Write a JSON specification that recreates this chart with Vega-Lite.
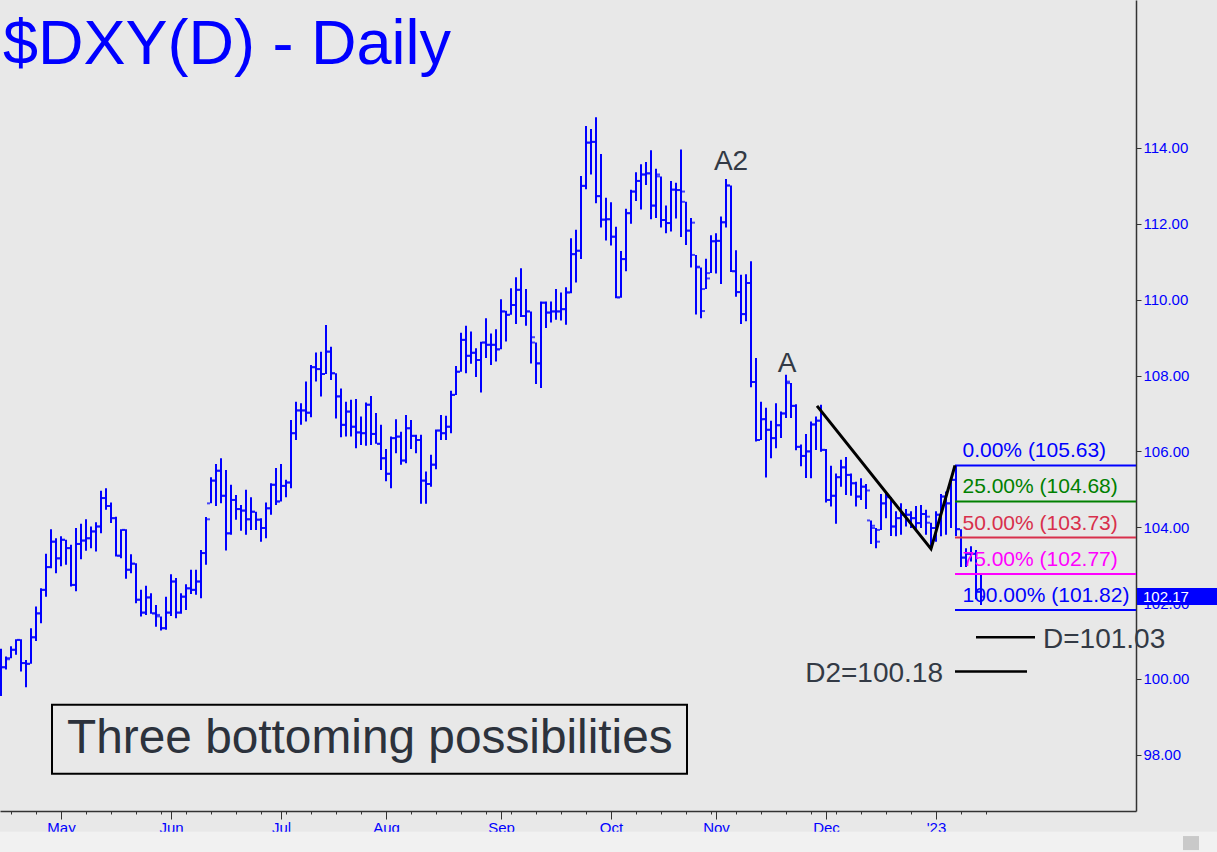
{
"$schema": "https://vega.github.io/schema/vega-lite/v6.json",
"width": 1136, "height": 811,
"autosize": {"type": "none"},
"padding": {"left": 0, "top": 0, "right": 81, "bottom": 41},
"background": "#e8e8e8",
"config": {"view": {"stroke": null}, "font": "Liberation Sans"},
"resolve": {"axis": {"x": "independent"}},
"datasets": {
"bars": [
{"i":0,"o":100.5,"h":100.8,"l":99.55,"c":100.31},
{"i":1,"o":100.31,"h":100.59,"l":100.25,"c":100.52},
{"i":2,"o":100.55,"h":100.86,"l":100.55,"c":100.77},
{"i":3,"o":100.77,"h":101.05,"l":100.64,"c":101.03},
{"i":4,"o":101.03,"h":101.05,"l":100.2,"c":100.42},
{"i":5,"o":100.42,"h":100.5,"l":99.78,"c":100.4},
{"i":6,"o":100.4,"h":101.34,"l":100.4,"c":101.1},
{"i":7,"o":101.1,"h":101.91,"l":101.0,"c":101.73},
{"i":8,"o":101.73,"h":102.39,"l":101.47,"c":102.35},
{"i":9,"o":102.35,"h":103.3,"l":102.17,"c":102.95},
{"i":10,"o":102.95,"h":103.95,"l":102.92,"c":103.62},
{"i":11,"o":103.62,"h":103.71,"l":102.79,"c":103.18},
{"i":12,"o":103.18,"h":103.76,"l":102.97,"c":103.67},
{"i":13,"o":103.67,"h":103.67,"l":103.01,"c":103.45},
{"i":14,"o":103.45,"h":103.54,"l":102.44,"c":102.48},
{"i":15,"o":102.48,"h":103.98,"l":102.31,"c":103.56},
{"i":16,"o":103.56,"h":104.09,"l":103.16,"c":103.65},
{"i":17,"o":103.65,"h":104.21,"l":103.38,"c":103.71},
{"i":18,"o":103.71,"h":104.02,"l":103.45,"c":103.89},
{"i":19,"o":103.89,"h":104.13,"l":103.36,"c":104.02},
{"i":20,"o":104.02,"h":104.96,"l":103.84,"c":104.77},
{"i":21,"o":104.77,"h":105.03,"l":104.46,"c":104.56},
{"i":22,"o":104.56,"h":104.65,"l":104.11,"c":104.24},
{"i":23,"o":104.24,"h":104.28,"l":103.23,"c":103.25},
{"i":24,"o":103.25,"h":103.95,"l":103.18,"c":103.93},
{"i":25,"o":103.93,"h":103.95,"l":102.64,"c":102.88},
{"i":26,"o":102.88,"h":103.29,"l":102.79,"c":103.04},
{"i":27,"o":103.04,"h":103.05,"l":102.0,"c":102.09},
{"i":28,"o":102.09,"h":102.35,"l":101.65,"c":101.75},
{"i":29,"o":101.75,"h":102.46,"l":101.69,"c":102.15},
{"i":30,"o":102.15,"h":102.26,"l":101.72,"c":101.73},
{"i":31,"o":101.73,"h":101.95,"l":101.38,"c":101.69},
{"i":32,"o":101.65,"h":101.65,"l":101.28,"c":101.34},
{"i":33,"o":101.34,"h":102.17,"l":101.3,"c":101.75},
{"i":34,"o":101.75,"h":102.76,"l":101.66,"c":102.57},
{"i":35,"o":102.57,"h":102.66,"l":101.6,"c":101.75},
{"i":36,"o":101.75,"h":102.26,"l":101.72,"c":102.17},
{"i":37,"o":102.17,"h":102.5,"l":101.82,"c":102.39},
{"i":38,"o":102.39,"h":102.88,"l":102.24,"c":102.35},
{"i":39,"o":102.35,"h":102.88,"l":102.22,"c":102.57},
{"i":40,"o":102.57,"h":103.4,"l":102.13,"c":103.32},
{"i":41,"o":103.32,"h":104.27,"l":103.01,"c":104.21},
{"i":42,"o":104.63,"h":105.32,"l":104.63,"c":105.23},
{"i":43,"o":105.23,"h":105.67,"l":104.56,"c":105.49},
{"i":44,"o":105.49,"h":105.82,"l":104.63,"c":104.83},
{"i":45,"o":104.83,"h":105.51,"l":103.39,"c":103.84},
{"i":46,"o":103.84,"h":105.12,"l":103.8,"c":104.72},
{"i":47,"o":104.72,"h":104.85,"l":104.2,"c":104.48},
{"i":48,"o":104.48,"h":104.59,"l":103.91,"c":104.44},
{"i":49,"o":104.44,"h":104.99,"l":103.8,"c":104.21},
{"i":50,"o":104.21,"h":104.79,"l":103.93,"c":104.41},
{"i":51,"o":104.41,"h":104.41,"l":103.93,"c":104.2},
{"i":52,"o":104.2,"h":104.24,"l":103.62,"c":103.98},
{"i":53,"o":103.98,"h":104.65,"l":103.71,"c":104.5},
{"i":54,"o":104.5,"h":105.16,"l":104.33,"c":105.12},
{"i":55,"o":105.12,"h":105.56,"l":104.59,"c":104.68},
{"i":56,"o":104.68,"h":105.67,"l":104.68,"c":105.09},
{"i":57,"o":105.09,"h":105.25,"l":104.79,"c":105.18},
{"i":58,"o":105.18,"h":106.83,"l":105.03,"c":106.48},
{"i":59,"o":106.48,"h":107.31,"l":106.3,"c":107.08},
{"i":60,"o":107.08,"h":107.27,"l":106.7,"c":107.08},
{"i":61,"o":107.08,"h":107.84,"l":106.79,"c":107.02},
{"i":62,"o":107.02,"h":108.28,"l":106.9,"c":108.22},
{"i":63,"o":108.22,"h":108.61,"l":107.84,"c":108.17},
{"i":64,"o":108.17,"h":108.63,"l":107.45,"c":108.04},
{"i":65,"o":108.04,"h":109.33,"l":108.04,"c":108.63},
{"i":66,"o":108.63,"h":108.76,"l":107.88,"c":108.06},
{"i":67,"o":108.06,"h":108.06,"l":106.87,"c":107.45},
{"i":68,"o":107.45,"h":107.66,"l":106.37,"c":106.7},
{"i":69,"o":106.7,"h":107.31,"l":106.39,"c":107.05},
{"i":70,"o":107.05,"h":107.36,"l":106.39,"c":106.65},
{"i":71,"o":106.65,"h":107.38,"l":106.08,"c":106.5},
{"i":72,"o":106.5,"h":106.92,"l":106.17,"c":106.48},
{"i":73,"o":106.48,"h":107.29,"l":106.15,"c":107.23},
{"i":74,"o":107.23,"h":107.46,"l":106.17,"c":106.46},
{"i":75,"o":106.46,"h":107.01,"l":106.2,"c":106.2},
{"i":76,"o":106.2,"h":106.7,"l":105.51,"c":105.82},
{"i":77,"o":105.82,"h":106.06,"l":105.21,"c":105.41},
{"i":78,"o":105.41,"h":106.39,"l":105.03,"c":106.35},
{"i":79,"o":106.35,"h":106.85,"l":105.95,"c":106.39},
{"i":80,"o":106.39,"h":106.52,"l":105.65,"c":105.76},
{"i":81,"o":105.76,"h":106.96,"l":105.69,"c":106.61},
{"i":82,"o":106.61,"h":106.83,"l":106.06,"c":106.41},
{"i":83,"o":106.41,"h":106.44,"l":105.95,"c":106.3},
{"i":84,"o":106.3,"h":106.44,"l":104.62,"c":105.23},
{"i":85,"o":105.23,"h":105.47,"l":104.62,"c":105.14},
{"i":86,"o":105.14,"h":105.91,"l":105.07,"c":105.65},
{"i":87,"o":105.65,"h":106.58,"l":105.53,"c":106.55},
{"i":88,"o":106.55,"h":106.96,"l":106.3,"c":106.48},
{"i":89,"o":106.48,"h":106.94,"l":106.3,"c":106.65},
{"i":90,"o":106.65,"h":107.6,"l":106.48,"c":107.49},
{"i":91,"o":107.49,"h":108.25,"l":107.49,"c":108.1},
{"i":92,"o":108.1,"h":109.13,"l":108.1,"c":108.94},
{"i":93,"o":108.94,"h":109.31,"l":108.06,"c":108.52},
{"i":94,"o":108.52,"h":109.16,"l":108.31,"c":108.6},
{"i":95,"o":108.6,"h":108.72,"l":107.96,"c":108.41},
{"i":96,"o":108.41,"h":108.89,"l":107.55,"c":108.87},
{"i":97,"o":108.87,"h":109.51,"l":108.46,"c":108.81},
{"i":98,"o":108.81,"h":109.11,"l":108.28,"c":108.81},
{"i":99,"o":108.81,"h":109.22,"l":108.37,"c":108.69},
{"i":100,"o":108.69,"h":110.01,"l":108.69,"c":109.69},
{"i":101,"o":109.69,"h":109.71,"l":108.9,"c":109.6},
{"i":102,"o":109.6,"h":110.3,"l":109.6,"c":109.86},
{"i":103,"o":109.86,"h":110.59,"l":109.36,"c":110.26},
{"i":104,"o":110.26,"h":110.83,"l":109.54,"c":109.57},
{"i":105,"o":109.57,"h":110.28,"l":109.31,"c":109.69},
{"i":106,"o":109.69,"h":109.69,"l":108.32,"c":109.01},
{"i":107,"o":108.87,"h":108.87,"l":107.78,"c":108.32},
{"i":108,"o":108.32,"h":109.95,"l":107.67,"c":109.92},
{"i":109,"o":109.92,"h":109.95,"l":109.25,"c":109.66},
{"i":110,"o":109.66,"h":109.95,"l":109.4,"c":109.69},
{"i":111,"o":109.69,"h":110.28,"l":109.47,"c":109.69},
{"i":112,"o":109.69,"h":110.19,"l":109.45,"c":109.75},
{"i":113,"o":109.75,"h":110.33,"l":109.34,"c":110.19},
{"i":114,"o":110.19,"h":111.62,"l":110.17,"c":111.2},
{"i":115,"o":111.2,"h":111.84,"l":110.45,"c":111.29},
{"i":116,"o":111.29,"h":113.26,"l":111.07,"c":113.0},
{"i":117,"o":113.0,"h":114.58,"l":112.91,"c":114.14},
{"i":118,"o":114.14,"h":114.5,"l":113.3,"c":114.16},
{"i":119,"o":114.16,"h":114.81,"l":112.54,"c":112.73},
{"i":120,"o":112.73,"h":113.84,"l":111.9,"c":112.11},
{"i":121,"o":112.11,"h":112.69,"l":111.56,"c":112.12},
{"i":122,"o":112.12,"h":112.57,"l":111.43,"c":111.66},
{"i":123,"o":111.66,"h":111.92,"l":110.04,"c":110.06},
{"i":124,"o":110.06,"h":111.28,"l":110.05,"c":111.07},
{"i":125,"o":111.07,"h":112.4,"l":110.75,"c":112.28},
{"i":126,"o":112.28,"h":112.9,"l":112.0,"c":112.85},
{"i":127,"o":112.85,"h":113.36,"l":112.6,"c":113.13},
{"i":128,"o":113.13,"h":113.57,"l":112.38,"c":113.3},
{"i":129,"o":113.3,"h":113.63,"l":113.02,"c":113.33},
{"i":130,"o":113.33,"h":113.94,"l":112.12,"c":112.48},
{"i":131,"o":112.48,"h":113.45,"l":112.15,"c":113.3},
{"i":132,"o":113.25,"h":113.25,"l":111.9,"c":112.1},
{"i":133,"o":112.1,"h":112.48,"l":111.75,"c":112.02},
{"i":134,"o":112.02,"h":113.13,"l":111.8,"c":112.9},
{"i":135,"o":112.9,"h":113.08,"l":112.14,"c":112.89},
{"i":136,"o":112.89,"h":113.96,"l":111.65,"c":112.85},
{"i":137,"o":112.58,"h":112.58,"l":111.44,"c":111.82},
{"i":138,"o":111.82,"h":112.15,"l":110.85,"c":112.03},
{"i":139,"o":111.18,"h":111.18,"l":109.61,"c":110.87},
{"i":140,"o":110.85,"h":110.85,"l":109.51,"c":109.7},
{"i":141,"o":110.28,"h":111.08,"l":110.28,"c":110.56},
{"i":142,"o":110.7,"h":111.7,"l":110.7,"c":111.54},
{"i":143,"o":111.54,"h":111.75,"l":110.69,"c":111.55},
{"i":144,"o":111.55,"h":112.19,"l":110.41,"c":112.04},
{"i":145,"o":112.04,"h":113.18,"l":111.9,"c":113.01},
{"i":146,"o":113.01,"h":113.01,"l":110.73,"c":110.75},
{"i":147,"o":110.75,"h":111.3,"l":110.08,"c":110.2},
{"i":148,"o":110.2,"h":110.66,"l":109.36,"c":109.62},
{"i":149,"o":109.62,"h":110.67,"l":109.43,"c":110.44},
{"i":150,"o":110.44,"h":111.01,"l":107.69,"c":107.83},
{"i":151,"o":107.83,"h":108.46,"l":106.26,"c":106.3},
{"i":152,"o":106.3,"h":107.31,"l":106.3,"c":106.85},
{"i":153,"o":106.85,"h":107.15,"l":105.31,"c":106.57},
{"i":154,"o":106.57,"h":106.81,"l":105.82,"c":106.35},
{"i":155,"o":106.35,"h":107.27,"l":106.08,"c":106.69},
{"i":156,"o":106.69,"h":107.05,"l":106.35,"c":107.0},
{"i":157,"o":107.0,"h":108.02,"l":106.88,"c":107.84},
{"i":158,"o":107.8,"h":107.8,"l":106.88,"c":107.2},
{"i":159,"o":107.2,"h":107.24,"l":106.03,"c":106.12},
{"i":160,"o":106.12,"h":106.18,"l":105.61,"c":105.88},
{"i":161,"o":105.88,"h":106.46,"l":105.3,"c":106.0},
{"i":162,"o":106.0,"h":106.79,"l":105.29,"c":106.71},
{"i":163,"o":106.71,"h":106.92,"l":106.04,"c":106.81},
{"i":164,"o":106.81,"h":107.23,"l":105.99,"c":106.04},
{"i":165,"o":106.04,"h":106.06,"l":104.65,"c":104.72},
{"i":166,"o":104.72,"h":105.62,"l":104.55,"c":104.83},
{"i":167,"o":104.83,"h":105.42,"l":104.09,"c":105.32},
{"i":168,"o":105.32,"h":105.78,"l":105.07,"c":105.58},
{"i":169,"o":105.58,"h":105.85,"l":104.85,"c":105.38},
{"i":170,"o":105.38,"h":105.42,"l":104.83,"c":105.16},
{"i":171,"o":105.16,"h":105.2,"l":104.55,"c":104.81},
{"i":172,"o":104.81,"h":105.29,"l":104.72,"c":105.07},
{"i":173,"o":105.07,"h":105.14,"l":104.48,"c":104.97},
{"i":174,"o":104.18,"h":104.18,"l":103.56,"c":104.04},
{"i":175,"o":103.98,"h":103.98,"l":103.45,"c":103.62},
{"i":176,"o":103.93,"h":104.88,"l":103.93,"c":104.63},
{"i":177,"o":104.63,"h":104.9,"l":104.24,"c":104.81},
{"i":178,"o":104.79,"h":104.79,"l":103.77,"c":104.02},
{"i":179,"o":104.02,"h":104.42,"l":103.76,"c":104.24},
{"i":180,"o":104.24,"h":104.63,"l":103.8,"c":104.33},
{"i":181,"o":104.33,"h":104.48,"l":104.02,"c":104.33},
{"i":182,"o":104.33,"h":104.42,"l":103.98,"c":104.24},
{"i":183,"o":104.24,"h":104.56,"l":103.93,"c":104.11},
{"i":184,"o":104.11,"h":104.59,"l":103.98,"c":104.35},
{"i":185,"o":104.35,"h":104.46,"l":103.8,"c":104.28},
{"i":186,"o":104.12,"h":104.12,"l":103.45,"c":103.98},
{"i":187,"o":103.98,"h":104.42,"l":103.62,"c":104.33},
{"i":188,"o":104.33,"h":104.88,"l":103.76,"c":104.81},
{"i":189,"o":104.81,"h":104.94,"l":103.8,"c":104.63},
{"i":190,"o":104.63,"h":105.29,"l":103.98,"c":105.25},
{"i":191,"o":105.25,"h":105.63,"l":103.77,"c":103.95},
{"i":192,"o":103.95,"h":103.95,"l":102.95,"c":103.2},
{"i":193,"o":103.2,"h":103.45,"l":102.95,"c":103.3},
{"i":194,"o":103.3,"h":103.5,"l":103.1,"c":103.3},
{"i":195,"o":103.3,"h":103.4,"l":102.1,"c":102.3},
{"i":196,"o":102.3,"h":102.75,"l":101.95,"c":102.17}
]
},
"layer": [
{"data": {"values": [{"a": -0.2, "b": 243.2, "top": 95.97, "bot": 95.44}]},
 "mark": {"type": "rect", "fill": "#f1f1f1"},
 "encoding": {"x": {"field": "a", "type": "quantitative", "axis": null, "scale": {"domain": [-0.2, 227], "nice": false, "zero": false}},
  "x2": {"field": "b"},
  "y": {"field": "top", "type": "quantitative", "scale": {"domain": [96.52, 117.9], "nice": false, "zero": false}},
  "y2": {"field": "bot"}}},
{"data": {"values": [{"a": 236.4, "b": 239.6, "top": 95.86, "bot": 95.49}]},
 "mark": {"type": "rect", "fill": "#c9c9c9"},
 "encoding": {"x": {"field": "a", "type": "quantitative", "axis": null}, "x2": {"field": "b"},
  "y": {"field": "top", "type": "quantitative"}, "y2": {"field": "bot"}}},
{"data": {"name": "bars"},
 "mark": {"type": "rule", "color": "#0000ff", "strokeWidth": 2},
 "encoding": {
  "x": {"field": "i", "type": "quantitative",
   "axis": {"orient": "bottom", "title": null, "grid": false, "domain": true,
    "values": [2,7,12,17,22,27,32,37,42,47,52,57,62,67,72,77,82,87,92,97,102,107,112,117,122,127,132,137,142,147,152,157,162,167,172,177,182,187,192,197],
    "labels": false, "tickSize": 3,
    "domainColor": "#333333", "tickColor": "#333333", "domainWidth": 1.5}},
  "y": {"field": "l", "type": "quantitative",
   "axis": {"orient": "right", "title": null, "grid": false, "values": [98,100,102,104,106,108,110,112,114], "format": ".2f",
    "labelColor": "#0000ff", "labelFontSize": 15, "tickSize": 5, "labelPadding": 2, "domainColor": "#333333", "tickColor": "#333333", "domainWidth": 1.5}},
  "y2": {"field": "h"}}},
{"data": {"name": "bars"},
 "mark": {"type": "tick", "orient": "horizontal", "color": "#0000ff", "size": 3, "thickness": 2, "xOffset": -2.5},
 "encoding": {"x": {"field": "i", "type": "quantitative",
   "axis": {"orient": "bottom", "title": null, "grid": false, "domain": false,
    "values": [12,34,56,77,100,122,143,165,187],
    "labelExpr": "datum.value==12?'May':datum.value==34?'Jun':datum.value==56?'Jul':datum.value==77?'Aug':datum.value==100?'Sep':datum.value==122?'Oct':datum.value==143?'Nov':datum.value==165?'Dec':\"'23\"",
    "tickSize": 8, "tickColor": "#333333", "labelColor": "#0000ff", "labelFontSize": 15, "labelPadding": 1,
    "labelOverlap": false, "labelFlush": false}},
  "y": {"field": "o", "type": "quantitative"}}},
{"data": {"name": "bars"},
 "mark": {"type": "tick", "orient": "horizontal", "color": "#0000ff", "size": 3, "thickness": 2, "xOffset": 2.5},
 "encoding": {"x": {"field": "i", "type": "quantitative", "axis": null}, "y": {"field": "c", "type": "quantitative"}}},
{"data": {"values": [
  {"lvl": "0.00%", "v": 105.63, "lab": "0.00% (105.63)"},
  {"lvl": "25.00%", "v": 104.68, "lab": "25.00% (104.68)"},
  {"lvl": "50.00%", "v": 103.73, "lab": "50.00% (103.73)"},
  {"lvl": "75.00%", "v": 102.77, "lab": "75.00% (102.77)"},
  {"lvl": "100.00%", "v": 101.82, "lab": "100.00% (101.82)"}]},
 "layer": [
  {"mark": {"type": "rule", "strokeWidth": 2},
   "encoding": {"x": {"datum": 190.8, "type": "quantitative", "axis": null}, "x2": {"datum": 227},
    "y": {"field": "v", "type": "quantitative"},
    "color": {"field": "lvl", "type": "nominal", "legend": null,
     "scale": {"domain": ["0.00%", "25.00%", "50.00%", "75.00%", "100.00%"], "range": ["#0000ff", "#008000", "#d8304c", "#ff00ff", "#0000ff"]}}}},
  {"mark": {"type": "text", "align": "left", "baseline": "alphabetic", "dy": -8, "fontSize": 21},
   "encoding": {"x": {"datum": 192.3, "type": "quantitative", "axis": null},
    "y": {"field": "v", "type": "quantitative"},
    "text": {"field": "lab"},
    "color": {"field": "lvl", "type": "nominal", "legend": null}}}
 ]},
{"data": {"values": [{"k": 1, "i": 163.2, "p": 107.2}, {"k": 2, "i": 186, "p": 103.43}, {"k": 3, "i": 190.8, "p": 105.63}]},
 "mark": {"type": "line", "color": "#000000", "strokeWidth": 3},
 "encoding": {"x": {"field": "i", "type": "quantitative", "axis": null}, "y": {"field": "p", "type": "quantitative"}, "order": {"field": "k"}}},
{"data": {"values": [{"a": 195, "b": 206.8, "p": 101.1}, {"a": 190.8, "b": 205.2, "p": 100.2}]},
 "mark": {"type": "rule", "color": "#000000", "strokeWidth": 2.5},
 "encoding": {"x": {"field": "a", "type": "quantitative", "axis": null}, "x2": {"field": "b"}, "y": {"field": "p", "type": "quantitative"}}},
{"data": {"values": [{"t": "$DXY(D) - Daily", "i": 0.4, "p": 116.21}]},
 "mark": {"type": "text", "align": "left", "baseline": "alphabetic", "fontSize": 63, "color": "#0000ff"},
 "encoding": {"x": {"field": "i", "type": "quantitative", "axis": null}, "y": {"field": "p", "type": "quantitative"}, "text": {"field": "t"}}},
{"data": {"values": [{"t": "A2", "i": 146.0, "p": 113.42}, {"t": "A", "i": 157.2, "p": 108.1}]},
 "mark": {"type": "text", "align": "center", "baseline": "alphabetic", "fontSize": 28, "color": "#333a45"},
 "encoding": {"x": {"field": "i", "type": "quantitative", "axis": null}, "y": {"field": "p", "type": "quantitative"}, "text": {"field": "t"}}},
{"data": {"values": [{"t": "D=101.03", "i": 208.4, "p": 100.82}]},
 "mark": {"type": "text", "align": "left", "baseline": "alphabetic", "fontSize": 28, "color": "#333a45"},
 "encoding": {"x": {"field": "i", "type": "quantitative", "axis": null}, "y": {"field": "p", "type": "quantitative"}, "text": {"field": "t"}}},
{"data": {"values": [{"t": "D2=100.18", "i": 188.4, "p": 99.93}]},
 "mark": {"type": "text", "align": "right", "baseline": "alphabetic", "fontSize": 28, "color": "#333a45"},
 "encoding": {"x": {"field": "i", "type": "quantitative", "axis": null}, "y": {"field": "p", "type": "quantitative"}, "text": {"field": "t"}}},
{"data": {"values": [{"a": 10.2, "b": 137.2, "top": 99.32, "bot": 97.5}]},
 "mark": {"type": "rect", "fill": "#e8e8e8", "stroke": "#000000", "strokeWidth": 2},
 "encoding": {"x": {"field": "a", "type": "quantitative", "axis": null}, "x2": {"field": "b"}, "y": {"field": "top", "type": "quantitative"}, "y2": {"field": "bot"}}},
{"data": {"values": [{"t": "Three bottoming possibilities", "i": 13.2, "p": 98.05}]},
 "mark": {"type": "text", "align": "left", "baseline": "alphabetic", "fontSize": 47.8, "color": "#2c323c"},
 "encoding": {"x": {"field": "i", "type": "quantitative", "axis": null}, "y": {"field": "p", "type": "quantitative"}, "text": {"field": "t"}}},
{"data": {"values": [{"a": 227.2, "b": 243.2, "top": 102.4, "bot": 101.95}]},
 "mark": {"type": "rect", "fill": "#0000ff"},
 "encoding": {"x": {"field": "a", "type": "quantitative", "axis": null}, "x2": {"field": "b"}, "y": {"field": "top", "type": "quantitative"}, "y2": {"field": "bot"}}},
{"data": {"values": [{"t": "102.17", "i": 228.4, "p": 102.17}]},
 "mark": {"type": "text", "align": "left", "baseline": "middle", "fontSize": 15, "color": "#ffffff"},
 "encoding": {"x": {"field": "i", "type": "quantitative", "axis": null}, "y": {"field": "p", "type": "quantitative"}, "text": {"field": "t"}}}
]
}
